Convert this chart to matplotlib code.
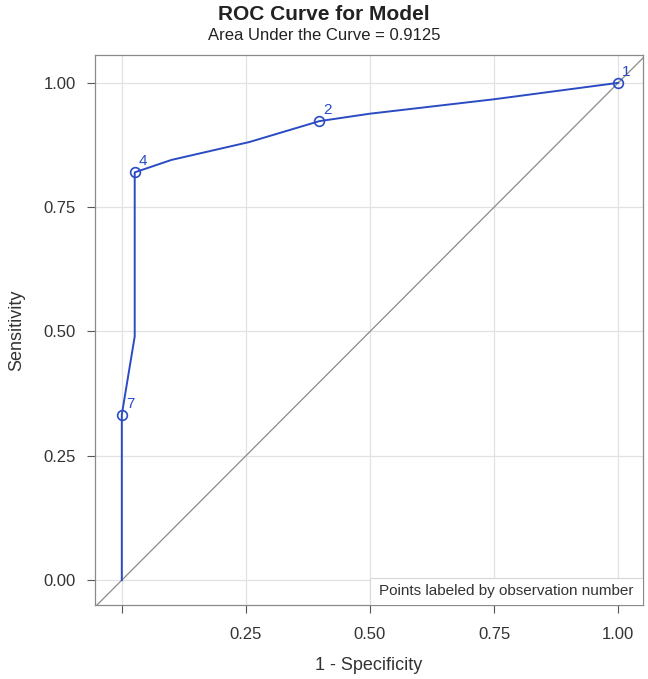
import numpy as np
import matplotlib
matplotlib.use('Agg')
import matplotlib.pyplot as plt
from matplotlib.patches import Rectangle

plt.rcParams['font.family'] = ['Liberation Sans', 'DejaVu Sans']

# ROC curve
fpr = [0.0, 0.0, 0.026, 0.026, 0.10, 0.257, 0.398, 0.50, 0.75, 1.0]
tpr = [0.0, 0.333, 0.49, 0.82, 0.845, 0.881, 0.923, 0.938, 0.967, 1.0]

# labelled observations
obs_x = [1.0, 0.398, 0.026, 0.0]
obs_y = [1.0, 0.923, 0.82, 0.333]
obs_lab = ['1', '2', '4', '7']

ticks = [0.0, 0.25, 0.50, 0.75, 1.00]
xticklab = ['', '0.25', '0.50', '0.75', '1.00']
yticklab = ['0.00', '0.25', '0.50', '0.75', '1.00']

blue = '#2a4bc4'

fig = plt.figure(figsize=(6.48, 6.79), dpi=100)
ax = fig.add_axes([95/648, 1-605/679, (643-95)/648, (605-55)/679])

ax.plot([-0.06, 1.06], [-0.06, 1.06], color='#8a8a8a', lw=0.9, zorder=2)
ax.plot(fpr, tpr, color=blue, lw=1.4, zorder=3)
ax.plot(obs_x, obs_y, 'o', mfc='none', mec=blue, ms=7, mew=1.2, zorder=4)
for x, y, t in zip(obs_x, obs_y, obs_lab):
    ax.annotate(t, (x, y), xytext=(3, 5), textcoords='offset points',
                color=blue, fontsize=11, zorder=5)

ax.set_xlim(-0.054, 1.05)
ax.set_ylim(-0.05, 1.056)
ax.set_xticks(ticks)
ax.set_xticklabels(xticklab)
ax.set_yticks(ticks)
ax.set_yticklabels(yticklab)
ax.grid(True, color='#e2e2e6', lw=0.9, zorder=0)
ax.tick_params(direction='out', length=6, width=0.8, color='#555555',
               labelsize=12, labelcolor='#333333')
ax.tick_params(axis='x', pad=10)
ax.tick_params(axis='y', pad=8)
for s in ax.spines.values():
    s.set_color('#8a8a8a')
    s.set_linewidth(0.9)

ax.set_xlabel('1 - Specificity', fontsize=13, color='#333333', labelpad=11)
ax.set_ylabel('Sensitivity', fontsize=13, color='#333333', labelpad=13)

ax.add_patch(Rectangle((0.502, 0.0), 0.498, 0.049, transform=ax.transAxes,
                       fc='white', ec='#d8d8d8', lw=0.8, zorder=6))
ax.text(0.751, 0.025, 'Points labeled by observation number', transform=ax.transAxes,
        ha='center', va='center', fontsize=11, color='#333333', zorder=7)

fig.text(0.5, 1-14/679, 'ROC Curve for Model', ha='center', va='center',
         fontsize=15, fontweight='bold', color='#222222')
fig.text(0.5, 1-36/679, 'Area Under the Curve = 0.9125', ha='center', va='center',
         fontsize=12, color='#222222')

fig.savefig('out.png', dpi=100)
